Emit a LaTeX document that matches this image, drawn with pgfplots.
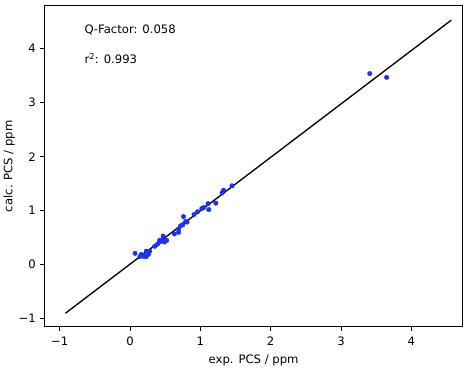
\documentclass[border={0pt 0pt 1pt 5pt}]{standalone}
\usepackage{pgfplots}
\pgfplotsset{compat=1.18}
\usepackage{fontspec}
\setmainfont{DejaVu Sans}
\definecolor{ptblue}{RGB}{30,50,230}
\begin{document}
\begin{tikzpicture}
\begin{axis}[
  scale only axis,
  width=406pt, height=312pt,
  xmin=-1.216, xmax=4.73,
  ymin=-1.15, ymax=4.8,
  xtick={-1,0,1,2,3,4}, xticklabels={−1,0,1,2,3,4},
  ytick={-1,0,1,2,3,4}, yticklabels={−1,0,1,2,3,4},
  tick align=outside,
  xtick pos=bottom, ytick pos=left,
  major tick length=4pt,
  tick style={black, line width=0.8pt},
  axis line style={line width=0.8pt},
  ticklabel style={font=\fontsize{11.3}{13}\selectfont},
  label style={font=\fontsize{11.3}{13}\selectfont},
  xticklabel style={yshift=-2pt},
  yticklabel style={xshift=-1pt},
  xlabel={exp. PCS / ppm},
  ylabel={calc. PCS / ppm},
  xlabel style={yshift=-2pt},
  ylabel style={yshift=-3pt},
  clip=false,
]
\addplot[black, line width=1.3pt] coordinates {(-0.92,-0.90) (4.57,4.53)};
\addplot[only marks, mark=*, mark size=2.2pt, color=ptblue, mark options={draw=ptblue, fill=ptblue}] coordinates {
(0.07,0.21) (0.14,0.15) (0.16,0.19) (0.20,0.15) (0.23,0.15) (0.23,0.25) (0.26,0.19)
(0.28,0.25) (0.35,0.34) (0.39,0.38) (0.42,0.42) (0.42,0.45) (0.45,0.45) (0.46,0.44)
(0.47,0.53) (0.49,0.42) (0.52,0.45) (0.63,0.57) (0.69,0.60) (0.69,0.66) (0.72,0.72)
(0.75,0.74) (0.76,0.89) (0.79,0.80) (0.81,0.79) (0.91,0.93) (0.96,0.98) (1.02,1.04)
(1.05,1.06) (1.12,1.02) (1.11,1.13) (1.22,1.14) (1.31,1.33) (1.33,1.38) (1.45,1.46)
(3.41,3.54) (3.65,3.47)
};
\node[anchor=west, font=\fontsize{11.3}{13}\selectfont] at (axis cs:-0.70,4.34) {Q-Factor: 0.058};
\node[anchor=west, font=\fontsize{11.3}{13}\selectfont] at (axis cs:-0.70,3.81) {r\textsuperscript{2}: 0.993};
\end{axis}
\end{tikzpicture}
\end{document}
